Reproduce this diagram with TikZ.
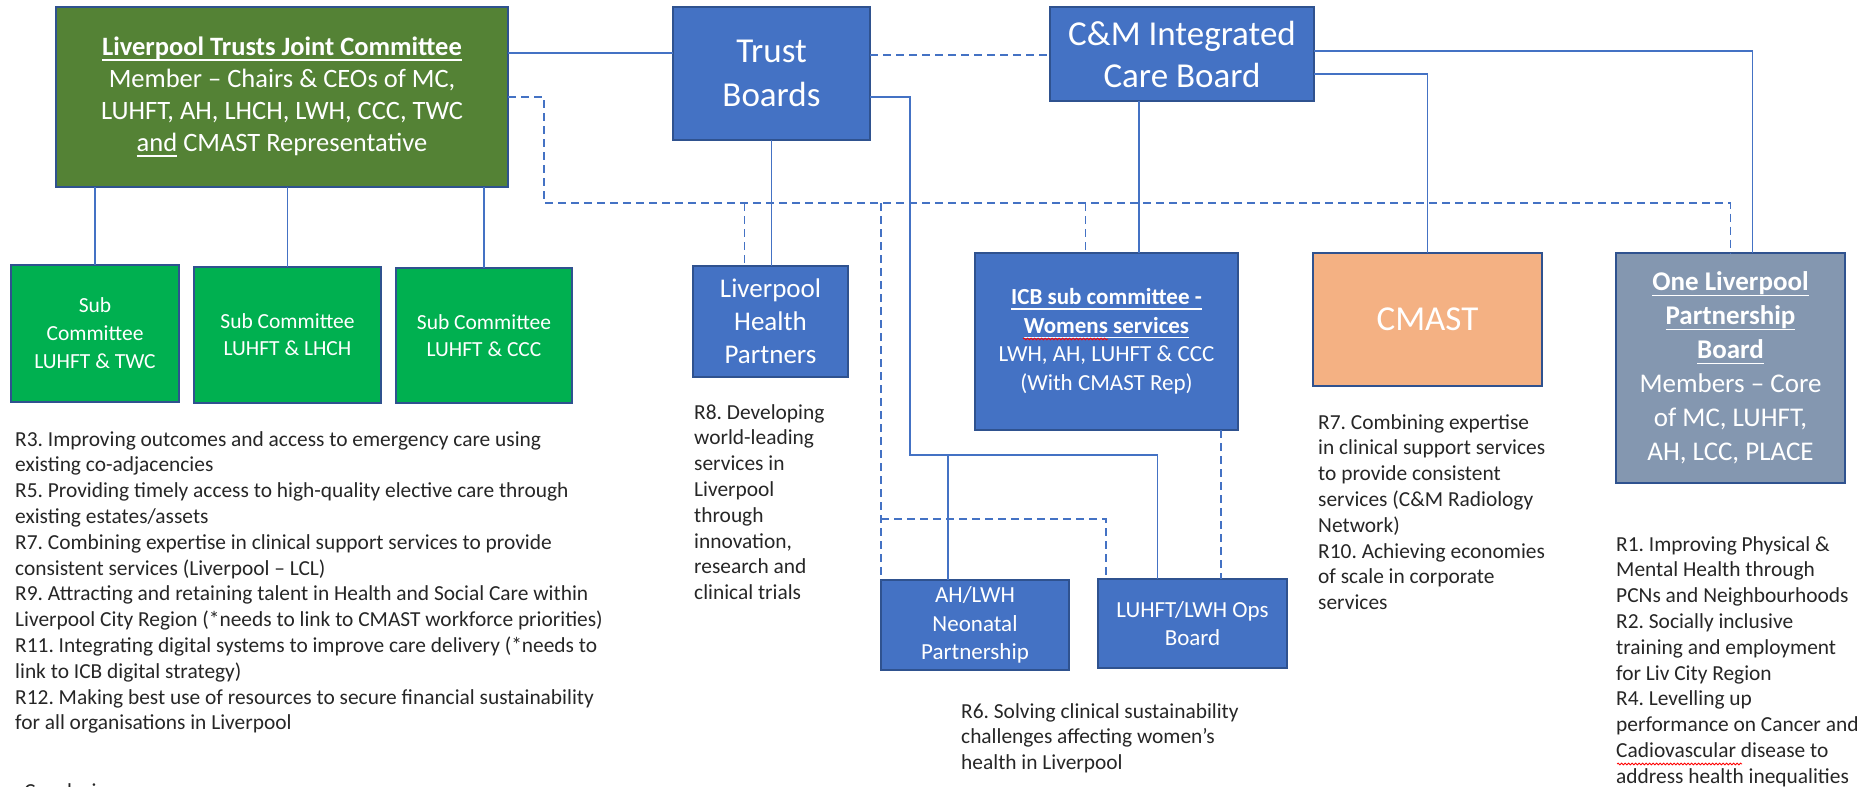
\documentclass[tikz,border=0pt]{standalone}
\usepackage{fontspec}
\setmainfont{Carlito}
\usepackage{tikz}
\usetikzlibrary{calc, decorations.pathmorphing}
\definecolor{ljcgreen}{HTML}{548235}
\definecolor{subgreen}{HTML}{00B050}
\definecolor{nhsblue}{HTML}{4472C4}
\definecolor{cmastorange}{HTML}{F4B183}
\definecolor{olpbgrey}{HTML}{8497B0}
\definecolor{boxline}{HTML}{2F528F}
\definecolor{linkblue}{HTML}{4472C4}

% underline at a fixed depth, like a word processor does
\newsavebox{\ulbox}
\newcommand{\uln}[1]{\leavevmode\sbox{\ulbox}{#1}\rlap{\rule[-0.2em]{\wd\ulbox}{0.06em}}\usebox{\ulbox}}
\frenchspacing

\begin{document}
\begin{tikzpicture}[x=1pt, y=-1pt,
    box/.style={draw=boxline, line width=1.5pt, anchor=north west,
                inner sep=0pt, outer sep=0pt, align=center, text=white},
    wh/.style 2 args={minimum width=#1pt, minimum height=#2pt},
    rtext/.style={anchor=north west, align=left, inner sep=0pt,
                  font=\fontsize{21.4}{25.8}\selectfont, text=black!85},
    link/.style={draw=linkblue, line width=1.5pt},
    dlink/.style={link, dash pattern=on 8pt off 5pt},
    spell/.style={draw=red, line width=0.8pt, decorate,
                  decoration={snake, amplitude=0.9pt, segment length=3.5pt}}
  ]
  \useasboundingbox (0,0) rectangle (1875,787);

  % top row
  \node[box, fill=ljcgreen, wh={452}{180}, font=\fontsize{26.5}{32}\selectfont] (ljc) at (56,7)
    {\textbf{\uln{Liverpool Trusts Joint Committee}}\\
     Member -- Chairs \& CEOs of MC,\\
     LUHFT, AH, LHCH, LWH, CCC, TWC\\
     \uln{and} CMAST Representative};
  \node[box, fill=nhsblue, wh={197}{133}, font=\fontsize{35}{44}\selectfont] (trust) at (673,7)
    {Trust\\Boards};
  \node[box, fill=nhsblue, wh={264}{94}, font=\fontsize{35}{42}\selectfont] (icb) at (1050,7)
    {C\&M Integrated\\Care Board};

  % second row
  \node[box, fill=subgreen, wh={168}{137}, font=\fontsize{21.5}{28}\selectfont] (subtwc) at (11,265)
    {Sub\\Committee\\LUHFT \& TWC};
  \node[box, fill=subgreen, wh={187}{136}, font=\fontsize{21.5}{27}\selectfont] (sublhch) at (194,267)
    {Sub Committee\\LUHFT \& LHCH};
  \node[box, fill=subgreen, wh={176}{135}, font=\fontsize{21.5}{27}\selectfont] (subccc) at (396,268)
    {Sub Committee\\LUHFT \& CCC};
  \node[box, fill=nhsblue, wh={155}{111}, font=\fontsize{27}{33}\selectfont] (lhp) at (693,266)
    {Liverpool\\Health\\Partners};
  \node[box, fill=nhsblue, wh={263}{177}, font=\fontsize{23}{28.5}\selectfont] (womens) at (975,253)
    {\textbf{\uln{ICB sub committee -}}\\
     \textbf{\uln{Womens services}}\\
     LWH, AH, LUHFT \& CCC\\
     (With CMAST Rep)};
  \node[box, fill=cmastorange, wh={229}{133}, font=\fontsize{35}{42}\selectfont] (cmast) at (1313,253)
    {CMAST};
  \node[box, fill=olpbgrey, wh={229}{230}, font=\fontsize{27}{34}\selectfont] (olpb) at (1616,253)
    {\textbf{\uln{One Liverpool}}\\
     \textbf{\uln{Partnership}}\\
     \textbf{\uln{Board}}\\
     Members -- Core\\
     of MC, LUHFT,\\
     AH, LCC, PLACE};

  % women's services groups
  \node[box, fill=nhsblue, wh={188}{90}, font=\fontsize{23}{28.5}\selectfont] (neonatal) at (881,580)
    {AH/LWH\\Neonatal\\Partnership};
  \node[box, fill=nhsblue, wh={189}{89}, font=\fontsize{23}{28.5}\selectfont] (opsboard) at (1098,579)
    {LUHFT/LWH Ops\\Board};

  \coordinate (tbsplit) at (910,455);
  \coordinate (dashbus) at (544,203);
  \coordinate (opsdash) at (881,519);

  % solid lines
  \draw[link] ([yshift=-46pt]ljc.north east) -- ([yshift=-46pt]trust.north west);
  \foreach \s in {subtwc, sublhch, subccc}
    \draw[link] (\s.north |- ljc.south) -- (\s.north);
  \draw[link] (trust.south) -- (trust.south |- lhp.north);
  \draw[link] ([yshift=-90pt]trust.north east) -| (tbsplit) -| ([xshift=-35pt]opsboard.north);
  \draw[link] ([xshift=-27pt]neonatal.north |- tbsplit) -- ([xshift=-27pt]neonatal.north);
  \draw[link] ([yshift=-44pt]icb.north east) -| ([xshift=22pt]olpb.north);
  \draw[link] ([yshift=-67pt]icb.north east) -| (cmast.north);
  \draw[link] ([xshift=-43pt]icb.south) -- ([xshift=-43pt]icb.south |- womens.north);

  % dashed lines
  \draw[dlink] ([yshift=-48pt]trust.north east) -- ([yshift=-48pt]icb.north west);
  \draw[dlink] ([yshift=-90pt]ljc.north east) -| (dashbus) -| (olpb.north);
  \draw[dlink] ([xshift=-26pt]lhp.north |- dashbus) -- ([xshift=-26pt]lhp.north);
  \draw[dlink] (neonatal.north west |- dashbus) -- (neonatal.north west);
  \draw[dlink] ([xshift=-21pt]womens.north |- dashbus) -- ([xshift=-21pt]womens.north);
  \draw[dlink] (opsdash) -| ([xshift=8pt]opsboard.north west);
  \draw[dlink] ([xshift=-17pt]womens.south east) -- ([xshift=-17pt]womens.south east |- opsboard.north);

  % recommendations
  \node[rtext] (ljcaims) at (15,431)
    {R3. Improving outcomes and access to emergency care using\\
     existing co-adjacencies\\
     R5. Providing timely access to high-quality elective care through\\
     existing estates/assets\\
     R7. Combining expertise in clinical support services to provide\\
     consistent services (Liverpool -- LCL)\\
     R9. Attracting and retaining talent in Health and Social Care within\\
     Liverpool City Region (*needs to link to CMAST workforce priorities)\\
     R11. Integrating digital systems to improve care delivery (*needs to\\
     link to ICB digital strategy)\\
     R12. Making best use of resources to secure financial sustainability\\
     for all organisations in Liverpool};
  \node[rtext] (lhpaims) at (694,404)
    {R8. Developing\\world-leading\\services in\\Liverpool\\through\\innovation,\\research and\\clinical trials};
  \node[rtext] (cmastaims) at (1318,414)
    {R7. Combining expertise\\in clinical support services\\to provide consistent\\services (C\&M Radiology\\Network)\\
     R10. Achieving economies\\of scale in corporate\\services};
  \node[rtext] (olpbaims) at (1616,536)
    {R1. Improving Physical \&\\Mental Health through\\PCNs and Neighbourhoods\\
     R2. Socially inclusive\\training and employment\\for Liv City Region\\
     R4. Levelling up\\performance on Cancer and\\Cadiovascular disease to\\address health inequalities};
  \node[rtext] (womensaims) at (961,703)
    {R6. Solving clinical sustainability\\challenges affecting women's\\health in Liverpool};
  \node[rtext] (concl) at (24,783) {Conclusion};

  % spell-check squiggles
  \draw[spell] (1023,339) -- (1108,339);
  \draw[spell] (1617,764) -- (1742,764);
\end{tikzpicture}
\end{document}
